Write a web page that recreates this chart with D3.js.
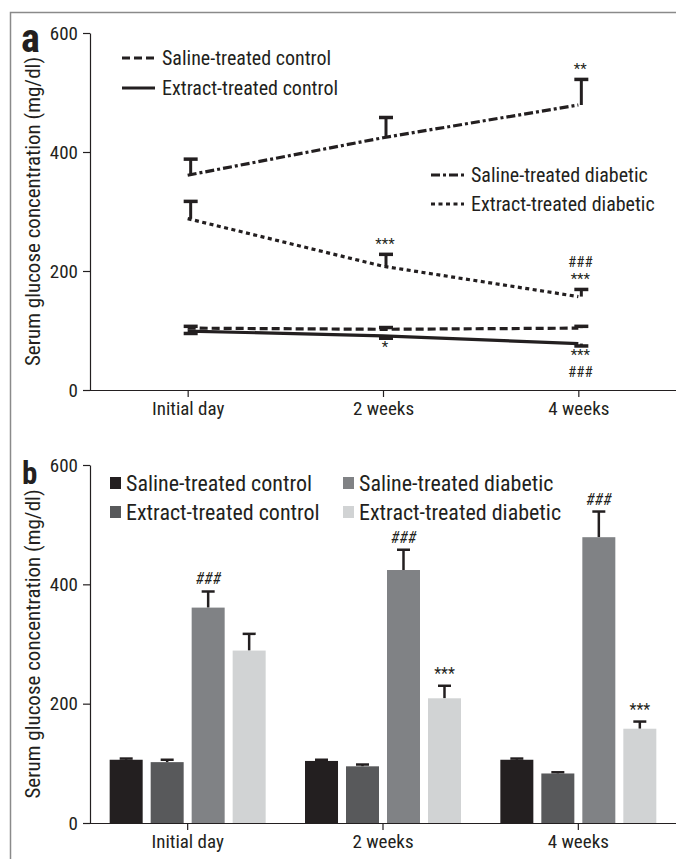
<!DOCTYPE html>
<html>
<head>
<meta charset="utf-8">
<script src="https://cdn.jsdelivr.net/npm/d3@7"></script>
<style>
  html, body { margin: 0; padding: 0; background: #fff; }
  svg { display: block; }
  text { font-family: "Liberation Sans Narrow", "Arial Narrow", "Roboto Condensed", sans-serif; fill: #231f20; }
</style>
</head>
<body>
<svg id="chart" width="676" height="859"></svg>
<script>
// ---------- DATA ----------
const categories = ["Initial day", "2 weeks", "4 weeks"];
const seriesNames = ["Saline-treated control", "Extract-treated control", "Saline-treated diabetic", "Extract-treated diabetic"];
const salineControl = [104, 102, 104];
const salineControlErr = [3, 3, 3];
const extractControl = [99, 91, 78];
const extractControlErr = [4, 4, 4];
const salineDiabetic = [361, 424, 479];
const salineDiabeticErr = [27, 34, 43];
const extractDiabetic = [288, 208, 157];
const extractDiabeticErr = [29, 20, 12];
// bar panel values
const barSalineControl = [106, 104, 106];
const barSalineControlErr = [2, 2, 2];
const barExtractControl = [102, 95, 83];
const barExtractControlErr = [4, 3, 2];
const barSalineDiabetic = [361, 424, 479];
const barSalineDiabeticErr = [27, 34, 43];
const barExtractDiabetic = [289, 209, 158];
const barExtractDiabeticErr = [28, 21, 12];
const yTicks = [0, 200, 400, 600];
// significance annotations
const annotationsA = [
  { s: 2, c: 2, lines: ["**"], side: "up" },
  { s: 3, c: 1, lines: ["***"], side: "up" },
  { s: 3, c: 2, lines: ["###", "***"], side: "up" },
  { s: 1, c: 1, lines: ["*"], side: "down" },
  { s: 1, c: 2, lines: ["***", "###"], side: "down" }
];
const annotationsB = [
  { s: 2, c: 0, lines: ["###"] },
  { s: 2, c: 1, lines: ["###"] },
  { s: 2, c: 2, lines: ["###"] },
  { s: 3, c: 1, lines: ["***"] },
  { s: 3, c: 2, lines: ["***"] }
];

// ---------- STYLE ----------
const barColors = ["#231f20", "#58595b", "#808285", "#d1d3d4"];
const dashes = ["8,4", null, "9,3,3,3", "4,3.5"];
const axisTitle = "Serum glucose concentration (mg/dl)";
const FONT = '"Liberation Sans Narrow", "Arial Narrow", "Roboto Condensed", sans-serif';

const svg = d3.select("#chart");

// frame
svg.append("path").attr("d", "M10.5,859 V12.5 H676").attr("fill", "none").attr("stroke", "#8a8a8a").attr("stroke-width", 1.5);

const left = 90, right = 676;

function styleAxis(g) {
  g.selectAll("path.domain").attr("stroke", "#231f20").attr("stroke-width", 1.2);
  g.selectAll(".tick line").attr("stroke", "#231f20").attr("stroke-width", 1.2);
  g.selectAll(".tick text").style("font-family", FONT).style("font-size", "19px").attr("fill", "#231f20");
}

// ---------- PANEL A ----------
const lineData = [salineControl, extractControl, salineDiabetic, extractDiabetic];
const lineErr = [salineControlErr, extractControlErr, salineDiabeticErr, extractDiabeticErr];
const errDir = [1, -1, 1, 1];

const xA = d3.scalePoint().domain(categories).range([left, right]).padding(0.5);
const yA = d3.scaleLinear().domain([0, 600]).range([390, 33]);

const gA = svg.append("g");

gA.append("g").attr("transform", `translate(${left},0)`)
  .call(d3.axisLeft(yA).tickValues(yTicks).tickSize(7).tickSizeOuter(0).tickPadding(5))
  .call(styleAxis);
const xAxisA = gA.append("g").attr("transform", `translate(0,${yA(0)})`)
  .call(d3.axisBottom(xA).tickSize(7).tickSizeOuter(0).tickPadding(5))
  .call(styleAxis);
xAxisA.select("path.domain").attr("d", `M${left},0.5H${right}`);

const line = d3.line().x((d, i) => xA(categories[i])).y(d => yA(d));
lineData.forEach((vals, s) => {
  gA.append("path").datum(vals)
    .attr("d", line)
    .attr("fill", "none")
    .attr("stroke", "#231f20")
    .attr("stroke-width", 3.2)
    .attr("stroke-dasharray", dashes[s]);
  vals.forEach((v, i) => {
    const cx = xA(categories[i]) + 3;
    const yEnd = yA(v + errDir[s] * lineErr[s][i]);
    gA.append("line").attr("x1", cx).attr("x2", cx).attr("y1", yA(v)).attr("y2", yEnd)
      .attr("stroke", "#231f20").attr("stroke-width", 3);
    gA.append("line").attr("x1", cx - 7).attr("x2", cx + 7).attr("y1", yEnd).attr("y2", yEnd)
      .attr("stroke", "#231f20").attr("stroke-width", 3.5);
  });
});

annotationsA.forEach(a => {
  const v = lineData[a.s][a.c];
  const e = lineErr[a.s][a.c];
  const cx = xA(categories[a.c]) + 2;
  a.lines.forEach((t, k) => {
    let y;
    if (a.side === "up") {
      y = yA(v + e) - 5 - (a.lines.length - 1 - k) * 17;
    } else {
      y = yA(v - e) + 14 + k * 17;
    }
    gA.append("text").attr("x", cx).attr("y", y).attr("text-anchor", "middle")
      .style("font-size", "15px").text(t);
  });
});

const legA = [
  { s: 0, x: 122, y: 58 },
  { s: 1, x: 122, y: 88 },
  { s: 2, x: 431, y: 175 },
  { s: 3, x: 431, y: 204 }
];
legA.forEach(l => {
  gA.append("line").attr("x1", l.x).attr("x2", l.x + 33).attr("y1", l.y).attr("y2", l.y)
    .attr("stroke", "#231f20").attr("stroke-width", 3.2).attr("stroke-dasharray", dashes[l.s]);
  gA.append("text").attr("x", l.x + 40).attr("y", l.y + 7).style("font-size", "20px").text(seriesNames[l.s]);
});

gA.append("text").attr("x", 21).attr("y", 52).style("font-size", "40px").style("font-weight", "bold").text("a");
gA.append("text").attr("transform", `translate(40,${(yA(0) + yA(600)) / 2}) rotate(-90)`)
  .attr("text-anchor", "middle").style("font-size", "21px").text(axisTitle);

// ---------- PANEL B ----------
const barData = [barSalineControl, barExtractControl, barSalineDiabetic, barExtractDiabetic];
const barErr = [barSalineControlErr, barExtractControlErr, barSalineDiabeticErr, barExtractDiabeticErr];

const x0 = d3.scaleBand().domain(categories).range([left, right]);
const x1 = d3.scaleBand().domain(d3.range(4)).range([0, x0.bandwidth()]).paddingInner(0.195).paddingOuter(0.48);
const yB = d3.scaleLinear().domain([0, 600]).range([823, 465]);

const gB = svg.append("g");

categories.forEach((c, i) => {
  barData.forEach((vals, s) => {
    const bx = x0(c) + x1(s);
    const bw = x1.bandwidth();
    const v = vals[i];
    const e = barErr[s][i];
    gB.append("line").attr("x1", bx + bw / 2).attr("x2", bx + bw / 2).attr("y1", yB(v)).attr("y2", yB(v + e))
      .attr("stroke", "#231f20").attr("stroke-width", 2.5);
    gB.append("line").attr("x1", bx + bw / 2 - 6.5).attr("x2", bx + bw / 2 + 6.5).attr("y1", yB(v + e)).attr("y2", yB(v + e))
      .attr("stroke", "#231f20").attr("stroke-width", 2.5);
    gB.append("rect").attr("x", bx).attr("y", yB(v)).attr("width", bw).attr("height", yB(0) - yB(v))
      .attr("fill", barColors[s]);
  });
});

gB.append("g").attr("transform", `translate(${left},0)`)
  .call(d3.axisLeft(yB).tickValues(yTicks).tickSize(7).tickSizeOuter(0).tickPadding(5))
  .call(styleAxis);
const xAxisB = gB.append("g").attr("transform", `translate(0,${yB(0)})`)
  .call(d3.axisBottom(x0).tickSize(7).tickSizeOuter(0).tickPadding(5))
  .call(styleAxis);
xAxisB.select("path.domain").attr("d", `M${left},0.5H${right}`);

annotationsB.forEach(a => {
  const v = barData[a.s][a.c];
  const e = barErr[a.s][a.c];
  const cx = x0(categories[a.c]) + x1(a.s) + x1.bandwidth() / 2;
  gB.append("text").attr("x", cx).attr("y", yB(v + e) - 7).attr("text-anchor", "middle")
    .style("font-size", "16px").style("font-style", a.lines[0] === "###" ? "italic" : "normal").text(a.lines[0]);
});

const legB = [
  { s: 0, x: 110, y: 483 },
  { s: 1, x: 110, y: 512 },
  { s: 2, x: 343, y: 483 },
  { s: 3, x: 343, y: 512 }
];
legB.forEach(l => {
  gB.append("rect").attr("x", l.x).attr("y", l.y - 6).attr("width", 11).attr("height", 12).attr("fill", barColors[l.s]);
  gB.append("text").attr("x", l.x + 16).attr("y", l.y + 8).style("font-size", "22px").text(seriesNames[l.s]);
});

gB.append("text").attr("x", 22).attr("y", 484).style("font-size", "31px").style("font-weight", "bold").text("b");
gB.append("text").attr("transform", `translate(40,${(yB(0) + yB(600)) / 2}) rotate(-90)`)
  .attr("text-anchor", "middle").style("font-size", "21px").text(axisTitle);
</script>
</body>
</html>
